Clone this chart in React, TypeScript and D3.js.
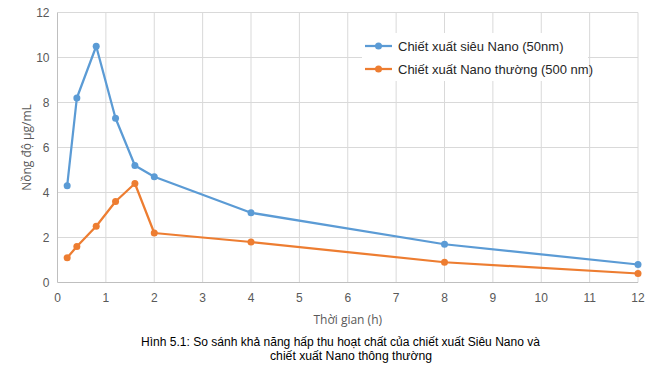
import React, { useEffect, useRef } from "react";
import * as d3 from "d3";

const timePoints = [0.2, 0.4, 0.8, 1.2, 1.6, 2, 4, 8, 12];
const superNano = [4.3, 8.2, 10.5, 7.3, 5.2, 4.7, 3.1, 1.7, 0.8];
const normalNano = [1.1, 1.6, 2.5, 3.6, 4.4, 2.2, 1.8, 0.9, 0.4];
const seriesNames = ["Chiết xuất  siêu Nano (50nm)", "Chiết xuất Nano thường (500 nm)"];
const seriesColors = ["#5b9bd5", "#ed7d31"];
const xTicks = [0, 1, 2, 3, 4, 5, 6, 7, 8, 9, 10, 11, 12];
const yTicks = [0, 2, 4, 6, 8, 10, 12];

const W = 655;
const H = 368;

export default function App() {
  const svgRef = useRef<SVGSVGElement>(null);

  useEffect(() => {
    if (!svgRef.current) return;
    const svg = d3.select(svgRef.current);
    svg.selectAll("*").remove();

    const margin = { top: 12.5, right: 17, bottom: 85.5, left: 57.5 };
    const x = d3.scaleLinear().domain([0, 12]).range([margin.left, W - margin.right]);
    const y = d3.scaleLinear().domain([0, 12]).range([H - margin.bottom, margin.top]);
    const font = "Liberation Sans, Arial, sans-serif";
    const titleFont = "Open Sans, sans-serif";

    svg.append("rect").attr("width", W).attr("height", H).attr("fill", "#fff");

    // grid
    svg.append("g")
      .selectAll("line")
      .data(xTicks.slice(1))
      .enter()
      .append("line")
      .attr("x1", (d) => x(d)).attr("x2", (d) => x(d))
      .attr("y1", y(0)).attr("y2", y(12))
      .attr("stroke", "#d9d9d9");
    svg.append("g")
      .selectAll("line")
      .data(yTicks.slice(1))
      .enter()
      .append("line")
      .attr("x1", x(0)).attr("x2", x(12))
      .attr("y1", (d) => y(d)).attr("y2", (d) => y(d))
      .attr("stroke", "#d9d9d9");

    // axes lines
    svg.append("line")
      .attr("x1", x(0)).attr("x2", x(0)).attr("y1", y(0)).attr("y2", y(12))
      .attr("stroke", "#bfbfbf");
    svg.append("line")
      .attr("x1", x(0)).attr("x2", x(12)).attr("y1", y(0)).attr("y2", y(0))
      .attr("stroke", "#bfbfbf");

    // tick labels
    svg.append("g")
      .selectAll("text")
      .data(yTicks)
      .enter()
      .append("text")
      .attr("x", x(0) - 8)
      .attr("y", (d) => y(d))
      .attr("dy", "0.35em")
      .attr("text-anchor", "end")
      .attr("fill", "#595959")
      .style("font", `12px ${font}`)
      .text((d) => d);
    svg.append("g")
      .selectAll("text")
      .data(xTicks)
      .enter()
      .append("text")
      .attr("x", (d) => x(d))
      .attr("y", y(0) + 19)
      .attr("text-anchor", "middle")
      .attr("fill", "#595959")
      .style("font", `12px ${font}`)
      .text((d) => d);

    // axis titles
    svg.append("text")
      .attr("x", (x(0) + x(12)) / 2)
      .attr("y", 324)
      .attr("text-anchor", "middle")
      .attr("fill", "#595959")
      .style("font", `12px ${titleFont}`)
      .text("Thời gian (h)");
    svg.append("text")
      .attr("transform", `translate(27, ${(y(0) + y(12)) / 2}) rotate(-90)`)
      .attr("text-anchor", "middle")
      .attr("dy", "0.35em")
      .attr("fill", "#595959")
      .style("font", `12px ${titleFont}`)
      .text("Nồng độ µg/mL");

    // series
    const seriesData = [superNano, normalNano];
    const line = d3.line<number>()
      .x((_, i) => x(timePoints[i]))
      .y((d) => y(d));
    seriesData.forEach((vals, si) => {
      svg.append("path")
        .datum(vals)
        .attr("d", line)
        .attr("fill", "none")
        .attr("stroke", seriesColors[si])
        .attr("stroke-width", 2.25)
        .attr("stroke-linejoin", "round");
      svg.append("g")
        .selectAll("circle")
        .data(vals)
        .enter()
        .append("circle")
        .attr("cx", (_, i) => x(timePoints[i]))
        .attr("cy", (d) => y(d))
        .attr("r", 3.5)
        .attr("fill", seriesColors[si]);
    });

    // legend
    const lg = svg.append("g").attr("transform", "translate(362, 33)");
    lg.append("rect").attr("width", 226).attr("height", 48).attr("fill", "#fff");
    seriesNames.forEach((name, i) => {
      const yy = 13 + i * 23;
      lg.append("line")
        .attr("x1", 3).attr("x2", 30).attr("y1", yy).attr("y2", yy)
        .attr("stroke", seriesColors[i]).attr("stroke-width", 2.25);
      lg.append("circle").attr("cx", 16.5).attr("cy", yy).attr("r", 3.5).attr("fill", seriesColors[i]);
      lg.append("text")
        .attr("x", 36).attr("y", yy).attr("dy", "0.35em")
        .attr("fill", "#262626")
        .style("font", `13px ${font}`)
        .text(name);
    });

    // caption
    const cap = ["Hình 5.1: So sánh khả năng hấp thu  hoạt chất của chiết xuất Siêu Nano và", "chiết xuất Nano thông thường"];
    const capX = [340.5, 351];
    const capLen = [399, 162];
    cap.forEach((t, i) => {
      svg.append("text")
        .attr("x", capX[i])
        .attr("y", 345.5 + i * 14)
        .attr("text-anchor", "middle")
        .attr("fill", "#000")
        .attr("textLength", capLen[i])
        .attr("lengthAdjust", "spacingAndGlyphs")
        .style("font", `12px ${font}`)
        .text(t);
    });
  }, []);

  return (
    <div style={{ position: "absolute", left: 0, top: 0 }}>
      <svg ref={svgRef} width={W} height={H} style={{ display: "block" }} />
    </div>
  );
}
